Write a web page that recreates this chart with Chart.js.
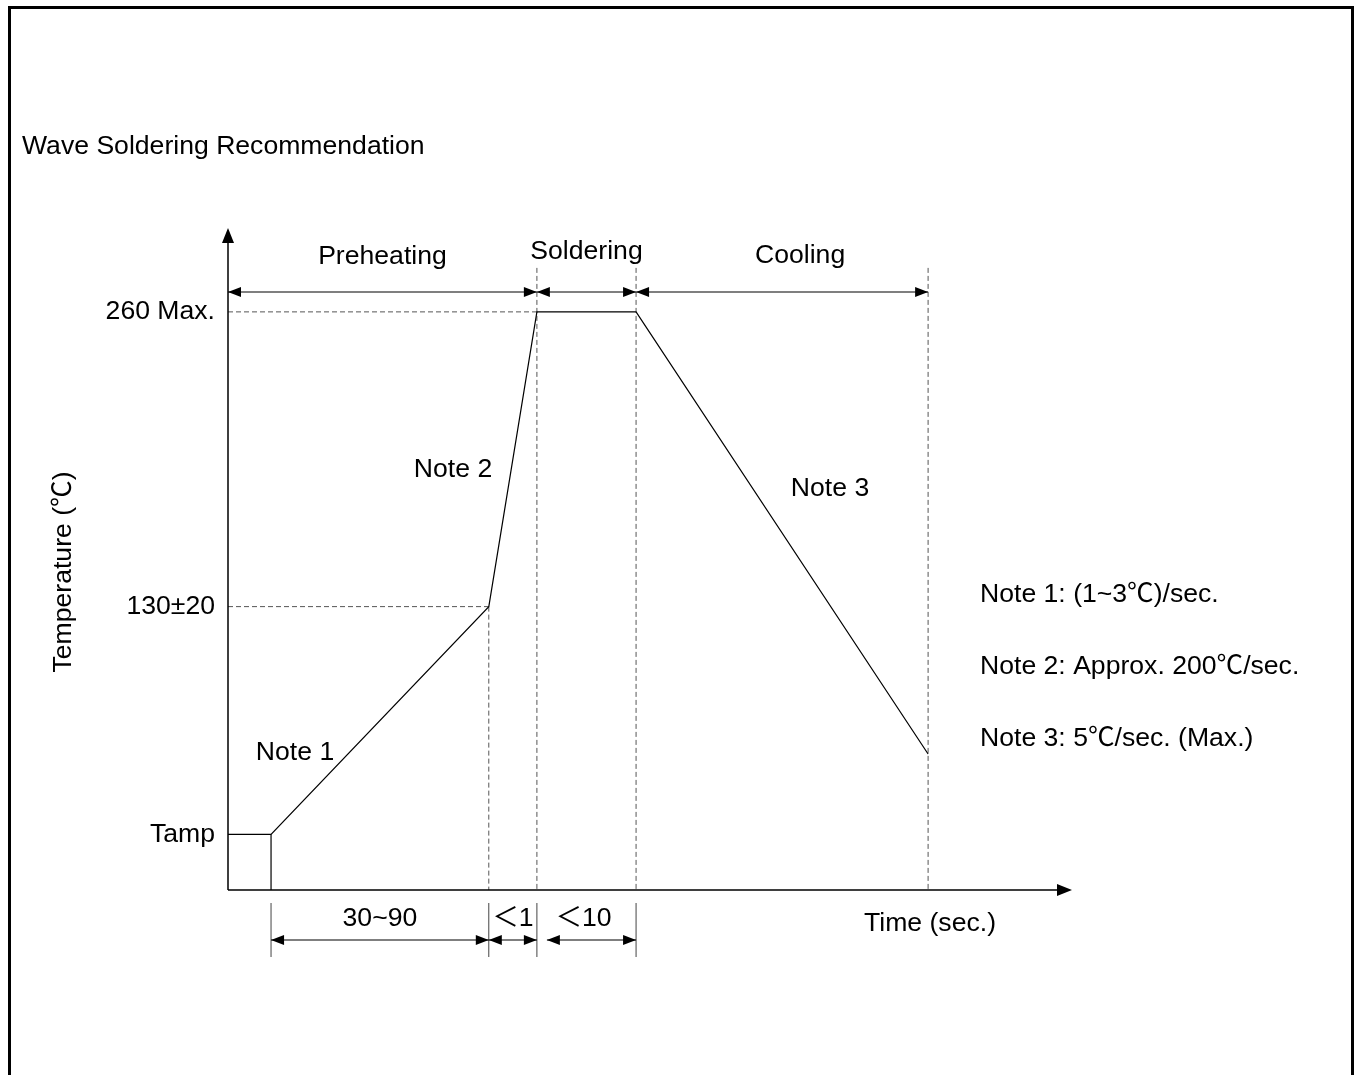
<!DOCTYPE html>
<html lang="en">
<head>
<meta charset="UTF-8" />
<title>Wave Soldering Recommendation</title>
<script src="https://cdn.jsdelivr.net/npm/chart.js"></script>
<style>
  html, body { margin: 0; padding: 0; background: #fff; overflow: hidden; }
  canvas { display: block; }
</style>
</head>
<body>
<canvas id="chart" width="1356" height="1075"></canvas>
<script>
// schematic profile: time in arbitrary units, temperature in ℃
const profileTime = [0, 10.2, 61.8, 73.2, 96.7, 165.9];
const profileTemp = [29.5, 29.5, 130, 260, 260, 65];

const yTickValues = [29.5, 130, 260];
const yTickLabels = ["Tamp", "130±20", "260 Max."];

const phaseNames = ["Preheating", "Soldering", "Cooling"];
const phaseBounds = [0, 73.2, 96.7, 165.9];

const durationLabels = ["30~90", "＜1", "＜10"];
const durationBounds = [10.2, 61.8, 73.2, 96.7];

const noteTexts = [
  "Note 1: (1~3℃)/sec.",
  "Note 2: Approx. 200℃/sec.",
  "Note 3: 5℃/sec. (Max.)"
];

const X_MAX = 200, Y_MIN = 5, Y_MAX = 297, GUIDE_TOP = 279.4;
const FONT = '"Liberation Sans", Arial, "Noto Sans CJK SC", sans-serif';
const CJK = '"Noto Sans CJK SC", "Noto Sans CJK JP", sans-serif';
const SIZE = 26.6;
const DASH_COLOR = "#555";

function pts(xs, ys) {
  return xs.map((x, i) => ({ x: x, y: ys[i] }));
}

function guide(xs, ys) {
  return {
    data: pts(xs, ys),
    borderColor: DASH_COLOR,
    borderWidth: 1,
    borderDash: [5, 3],
    pointRadius: 0,
    clip: false
  };
}

const datasets = [
  {
    label: "Profile",
    data: pts(profileTime, profileTemp),
    borderColor: "#000",
    borderWidth: 1.2,
    pointRadius: 0,
    tension: 0,
    clip: false
  },
  {
    label: "Tamp edge",
    data: pts([profileTime[1], profileTime[1]], [Y_MIN, profileTemp[1]]),
    borderColor: "#000",
    borderWidth: 1.2,
    pointRadius: 0,
    clip: false
  },
  guide([0, profileTime[3]], [260, 260]),
  guide([0, profileTime[2]], [130, 130]),
  guide([profileTime[2], profileTime[2]], [130, Y_MIN]),
  guide([profileTime[3], profileTime[3]], [GUIDE_TOP, Y_MIN]),
  guide([profileTime[4], profileTime[4]], [GUIDE_TOP, Y_MIN]),
  guide([profileTime[5], profileTime[5]], [GUIDE_TOP, Y_MIN])
];

function head(ctx, x, y, dx, dy, len, w) {
  ctx.beginPath();
  ctx.moveTo(x, y);
  ctx.lineTo(x - dx * len - dy * w, y - dy * len + dx * w);
  ctx.lineTo(x - dx * len + dy * w, y - dy * len - dx * w);
  ctx.closePath();
  ctx.fill();
}

function dimArrow(ctx, x1, x2, y) {
  ctx.beginPath();
  ctx.moveTo(x1, y);
  ctx.lineTo(x2, y);
  ctx.stroke();
  head(ctx, x1, y, -1, 0, 13, 5);
  head(ctx, x2, y, 1, 0, 13, 5);
}

// draws text (y = visual middle), using the CJK face for ℃ / ＜ like the original
function text(ctx, str, x, y, align) {
  const parts = str.split(/([℃＜])/).filter(p => p);
  const fonts = parts.map(p => SIZE + "px " + (/[℃＜]/.test(p) ? CJK : FONT));
  let total = 0;
  const widths = parts.map((p, i) => {
    ctx.font = fonts[i];
    const w = ctx.measureText(p).width;
    total += w;
    return w;
  });
  let cx = align === "center" ? x - total / 2 : x;
  const base = y + SIZE * 0.35;
  ctx.textAlign = "left";
  ctx.textBaseline = "alphabetic";
  parts.forEach((p, i) => {
    ctx.font = fonts[i];
    ctx.fillText(p, cx, base);
    cx += widths[i];
  });
}

const decorPlugin = {
  id: "decor",
  afterDraw(chart) {
    const ctx = chart.ctx;
    const a = chart.chartArea;
    const xs = chart.scales.x;
    const px = v => xs.getPixelForValue(v);
    ctx.save();

    // outer frame
    ctx.strokeStyle = "#000";
    ctx.lineWidth = 3;
    ctx.strokeRect(9.5, 7.5, 1343, 1100);

    // axes with arrows
    ctx.fillStyle = "#000";
    ctx.lineWidth = 1.5;
    ctx.beginPath();
    ctx.moveTo(a.left, a.bottom);
    ctx.lineTo(a.right - 8, a.bottom);
    ctx.moveTo(a.left, a.bottom);
    ctx.lineTo(a.left, a.top + 8);
    ctx.stroke();
    head(ctx, a.right, a.bottom, 1, 0, 15, 6);
    head(ctx, a.left, a.top, 0, -1, 15, 6);

    // phase arrows and names
    ctx.lineWidth = 1.2;
    const topRow = a.top + 64;
    for (let i = 0; i < phaseNames.length; i++) {
      dimArrow(ctx, px(phaseBounds[i]), px(phaseBounds[i + 1]), topRow);
    }
    const phaseDx = [0, 0, 18], phaseY = [255, 250, 254];
    phaseNames.forEach((n, i) => {
      const cx = (px(phaseBounds[i]) + px(phaseBounds[i + 1])) / 2 + phaseDx[i];
      text(ctx, n, cx, phaseY[i], "center");
    });

    // extension lines below the time axis
    ctx.strokeStyle = "#444";
    ctx.lineWidth = 1;
    ctx.beginPath();
    durationBounds.forEach(v => {
      ctx.moveTo(px(v), a.bottom + 13);
      ctx.lineTo(px(v), a.bottom + 67);
    });
    ctx.stroke();

    // duration arrows
    ctx.strokeStyle = "#000";
    ctx.lineWidth = 1.2;
    const botRow = a.bottom + 50;
    const startGap = [0, 0, 10];
    for (let i = 0; i < durationLabels.length; i++) {
      dimArrow(ctx, px(durationBounds[i]) + startGap[i], px(durationBounds[i + 1]), botRow);
    }
    const durDx = [0, 0, -3];
    durationLabels.forEach((t, i) => {
      const cx = (px(durationBounds[i]) + px(durationBounds[i + 1])) / 2 + durDx[i];
      text(ctx, t, cx, a.bottom + 27, "center");
    });

    text(ctx, "Time (sec.)", 930, a.bottom + 32, "center");

    // segment notes
    text(ctx, "Note 1", 295, 751, "center");
    text(ctx, "Note 2", 453, 468, "center");
    text(ctx, "Note 3", 830, 487, "center");

    // legend of notes
    noteTexts.forEach((t, i) => text(ctx, t, 980, 593 + i * 72, "left"));

    // title
    text(ctx, "Wave Soldering Recommendation", 22, 145, "left");

    // axis title
    ctx.save();
    ctx.translate(62, 572);
    ctx.rotate(-Math.PI / 2);
    text(ctx, "Temperature (℃)", 0, 0, "center");
    ctx.restore();

    ctx.restore();
  }
};

Chart.defaults.font.family = FONT;
Chart.defaults.color = "#000";

new Chart(document.getElementById("chart"), {
  type: "line",
  data: { datasets: datasets },
  options: {
    responsive: false,
    animation: false,
    layout: { padding: { top: 228, right: 284, bottom: 185, left: 0 } },
    plugins: { legend: { display: false }, tooltip: { enabled: false } },
    scales: {
      x: { type: "linear", min: 0, max: X_MAX, display: false },
      y: {
        type: "linear",
        min: Y_MIN,
        max: Y_MAX,
        grid: { display: false, drawTicks: false },
        border: { display: false },
        afterBuildTicks: s => { s.ticks = yTickValues.map(v => ({ value: v })); },
        afterFit: s => { s.width = 228; },
        ticks: {
          autoSkip: false,
          padding: 13,
          font: { size: SIZE },
          color: "#000",
          callback: (v, i) => yTickLabels[i]
        }
      }
    }
  },
  plugins: [decorPlugin]
});
</script>
</body>
</html>
